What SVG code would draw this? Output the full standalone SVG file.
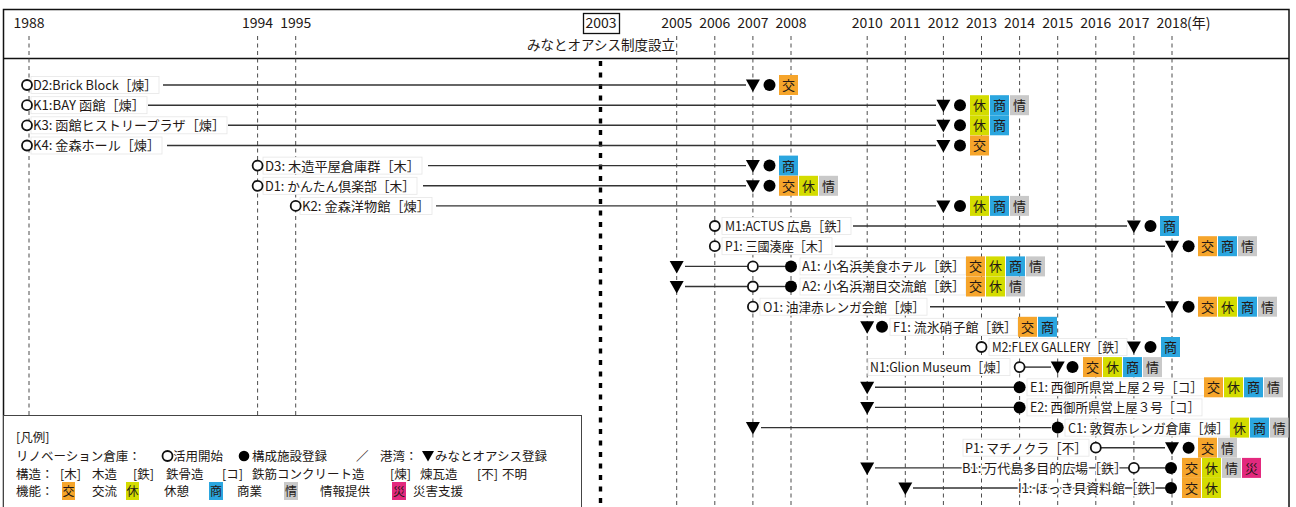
<svg xmlns="http://www.w3.org/2000/svg" width="1296" height="507" viewBox="0 0 1296 507">
<style>
.t{font-family:"Noto Sans CJK JP","Noto Sans",sans-serif;fill:#231815}
.yr{font-size:14px;text-anchor:middle}
.lb{font-size:13px}
.lg{font-size:12.5px}
.tg{font-size:13px;text-anchor:middle}
.tgs{font-size:12px;text-anchor:middle}
.dash{stroke:#4d4d4d;stroke-width:1;stroke-dasharray:4 3.5;fill:none}
.dash3{stroke:#000;stroke-width:3.4;stroke-dasharray:5 6.5;fill:none}
.ln{stroke:#333;stroke-width:1.4;fill:none}
.oc{fill:#fff;stroke:#111;stroke-width:1.8}
.fc{fill:#000}
.bg{fill:#fff;stroke:#e6e6e6;stroke-width:0.8}
.halo{stroke:#fff;stroke-width:3;paint-order:stroke;stroke-linejoin:round}
.ko{fill:#F6A52B}.kyu{fill:#D4DC00}.sho{fill:#2BA6DF}.jo{fill:#C9C9C9}.sai{fill:#E3297E}
</style>
<defs>
<path id="tri" d="M-7,-5.5 L7,-5.5 L0,7 Z" fill="#000"/>
</defs>
<rect width="1296" height="507" fill="#fff"/>
<!-- frame -->
<rect x="3.5" y="9.5" width="1285.5" height="510" fill="none" stroke="#111" stroke-width="1.5"/>
<line x1="3.5" y1="58.5" x2="1289" y2="58.5" stroke="#111" stroke-width="1.5"/>
<!-- year axis -->
<g id="axis">
<g class="dash">
<line x1="29" y1="36" x2="29" y2="507"/>
<line x1="257.6" y1="36" x2="257.6" y2="507"/>
<line x1="295.7" y1="36" x2="295.7" y2="507"/>
<line x1="676.7" y1="36" x2="676.7" y2="507"/>
<line x1="714.8" y1="36" x2="714.8" y2="507"/>
<line x1="752.9" y1="36" x2="752.9" y2="507"/>
<line x1="791" y1="36" x2="791" y2="507"/>
<line x1="867.2" y1="36" x2="867.2" y2="507"/>
<line x1="905.3" y1="36" x2="905.3" y2="507"/>
<line x1="943.4" y1="36" x2="943.4" y2="507"/>
<line x1="981.5" y1="36" x2="981.5" y2="507"/>
<line x1="1019.6" y1="36" x2="1019.6" y2="507"/>
<line x1="1057.7" y1="36" x2="1057.7" y2="507"/>
<line x1="1095.8" y1="36" x2="1095.8" y2="507"/>
<line x1="1133.9" y1="36" x2="1133.9" y2="507"/>
<line x1="1172" y1="36" x2="1172" y2="507"/>
</g>
<line class="dash3" x1="600.5" y1="61" x2="600.5" y2="507"/>
<g class="t yr">
<text x="29" y="28">1988</text>
<text x="257.6" y="28">1994</text>
<text x="295.7" y="28">1995</text>
<text x="601" y="28">2003</text>
<text x="676.7" y="28">2005</text>
<text x="714.8" y="28">2006</text>
<text x="752.9" y="28">2007</text>
<text x="791" y="28">2008</text>
<text x="867.2" y="28">2010</text>
<text x="905.3" y="28">2011</text>
<text x="943.4" y="28">2012</text>
<text x="981.5" y="28">2013</text>
<text x="1019.6" y="28">2014</text>
<text x="1057.7" y="28">2015</text>
<text x="1095.8" y="28">2016</text>
<text x="1133.9" y="28">2017</text>
<text x="1172" y="28">2018</text>
<text x="1187" y="28" style="text-anchor:start">(年)</text>
</g>
<rect x="583.5" y="13.5" width="36" height="20" fill="none" stroke="#111" stroke-width="1.3"/>
<text class="t" x="675" y="50" style="font-size:13.5px;text-anchor:end">みなとオアシス制度設立</text>
</g>
<!-- legend -->
<g id="legend">
<rect x="3.5" y="415.5" width="578" height="100" fill="#fff" stroke="#444" stroke-width="1"/>
<g class="t lg">
<text x="16" y="442">[凡例]</text>
<text x="16" y="460.5">リノベーション倉庫：</text>
<text x="173" y="460.5">活用開始</text>
<text x="252" y="460.5">構成施設登録</text>
<text x="356" y="460.5">／</text>
<text x="380" y="460.5">港湾：</text>
<text x="435" y="460.5">みなとオアシス登録</text>
<text x="16" y="478.5">構造：</text>
<text x="60" y="478.5">[木]</text>
<text x="92" y="478.5">木造</text>
<text x="133" y="478.5">[鉄]</text>
<text x="166" y="478.5">鉄骨造</text>
<text x="222" y="478.5">[コ]</text>
<text x="252" y="478.5">鉄筋コンクリート造</text>
<text x="390" y="478.5">[煉]</text>
<text x="420" y="478.5">煉瓦造</text>
<text x="477" y="478.5">[不]</text>
<text x="502" y="478.5">不明</text>
<text x="16" y="496">機能：</text>
<text x="92" y="496">交流</text>
<text x="164" y="496">休憩</text>
<text x="237" y="496">商業</text>
<text x="320" y="496">情報提供</text>
<text x="413" y="496">災害支援</text>
</g>
<circle class="oc" cx="167.5" cy="456" r="5" stroke-width="1.6"/>
<circle class="fc" cx="244" cy="456" r="5.3"/>
<path d="M422,451 L434,451 L428,461.5 Z" fill="#000"/>
<rect class="ko" x="62" y="482" width="13" height="18"/>
<rect class="kyu" x="126" y="482" width="13" height="18"/>
<rect class="sho" x="209" y="482" width="14" height="18"/>
<rect class="jo" x="284" y="482" width="14" height="18"/>
<rect class="sai" x="392" y="482" width="14" height="18"/>
<g class="t tgs">
<text x="68.5" y="496">交</text>
<text x="132.5" y="496">休</text>
<text x="216" y="496">商</text>
<text x="291" y="496">情</text>
<text x="399" y="496">災</text>
</g>
</g>
<!-- connectors -->
<g id="connectors" class="ln">
<line x1="163" y1="85" x2="746" y2="85"/>
<line x1="148" y1="105.2" x2="936" y2="105.2"/>
<line x1="228" y1="125.3" x2="936" y2="125.3"/>
<line x1="167" y1="145.5" x2="936" y2="145.5"/>
<line x1="428" y1="165.6" x2="746" y2="165.6"/>
<line x1="423" y1="185.8" x2="746" y2="185.8"/>
<line x1="436" y1="205.9" x2="936" y2="205.9"/>
<line x1="853" y1="226" x2="1127" y2="226"/>
<line x1="835" y1="246.2" x2="1165" y2="246.2"/>
<line x1="685" y1="266.4" x2="747.5" y2="266.4"/>
<line x1="758.5" y1="266.4" x2="785" y2="266.4"/>
<line x1="685" y1="286.5" x2="747.5" y2="286.5"/>
<line x1="758.5" y1="286.5" x2="785" y2="286.5"/>
<line x1="930" y1="306.7" x2="1165" y2="306.7"/>
<line x1="1025" y1="367.1" x2="1051" y2="367.1"/>
<line x1="875" y1="387.3" x2="1014" y2="387.3"/>
<line x1="875" y1="407.4" x2="1014" y2="407.4"/>
<line x1="761" y1="427.6" x2="1051" y2="427.6"/>
<line x1="1101" y1="447.7" x2="1165" y2="447.7"/>
<line x1="875" y1="467.9" x2="1128.5" y2="467.9"/>
<line x1="1139" y1="467.9" x2="1165" y2="467.9"/>
<line x1="913" y1="488" x2="1165" y2="488"/>
</g>
<!-- nodes -->
<g id="D2">
<rect class="bg" x="31" y="76.5" width="128" height="17"/>
<circle class="oc" cx="27" cy="85" r="5"/>
<text class="t lb" x="33" y="89.9" textLength="124" lengthAdjust="spacingAndGlyphs">D2:Brick Block［煉］</text>
<use href="#tri" x="752.9" y="85"/><circle class="fc" cx="769.5" cy="85" r="6"/>
<rect class="ko" x="779" y="75" width="19" height="20"/><text class="t tg" x="788.5" y="89.9">交</text>
</g>
<g id="K1">
<rect class="bg" x="31" y="96.7" width="116" height="17"/>
<circle class="oc" cx="27" cy="105.2" r="5"/>
<text class="t lb" x="33" y="110.1" textLength="112" lengthAdjust="spacingAndGlyphs">K1:BAY 函館［煉］</text>
<use href="#tri" x="943.4" y="105.2"/><circle class="fc" cx="960" cy="105.2" r="6"/>
<rect class="kyu" x="970" y="95.2" width="19" height="20"/><text class="t tg" x="979.5" y="110.1">休</text>
<rect class="sho" x="990" y="95.2" width="19" height="20"/><text class="t tg" x="999.5" y="110.1">商</text>
<rect class="jo" x="1010" y="95.2" width="19" height="20"/><text class="t tg" x="1019.5" y="110.1">情</text>
</g>
<g id="K3">
<rect class="bg" x="31" y="116.8" width="196" height="17"/>
<circle class="oc" cx="27" cy="125.3" r="5"/>
<text class="t lb" x="33" y="130.2" textLength="192" lengthAdjust="spacingAndGlyphs">K3: 函館ヒストリープラザ［煉］</text>
<use href="#tri" x="943.4" y="125.3"/><circle class="fc" cx="960" cy="125.3" r="6"/>
<rect class="kyu" x="970" y="115.3" width="19" height="20"/><text class="t tg" x="979.5" y="130.2">休</text>
<rect class="sho" x="990" y="115.3" width="19" height="20"/><text class="t tg" x="999.5" y="130.2">商</text>
</g>
<g id="K4">
<rect class="bg" x="31" y="137" width="131" height="17"/>
<circle class="oc" cx="27" cy="145.5" r="5"/>
<text class="t lb" x="33" y="150.4" textLength="127" lengthAdjust="spacingAndGlyphs">K4: 金森ホール［煉］</text>
<use href="#tri" x="943.4" y="145.5"/><circle class="fc" cx="960" cy="145.5" r="6"/>
<rect class="ko" x="970" y="135.5" width="19" height="20"/><text class="t tg" x="979.5" y="150.4">交</text>
</g>
<g id="D3">
<rect class="bg" x="263" y="157.1" width="159" height="17"/>
<circle class="oc" cx="257.6" cy="165.6" r="5"/>
<text class="t lb" x="265" y="170.5" textLength="155" lengthAdjust="spacingAndGlyphs">D3: 木造平屋倉庫群［木］</text>
<use href="#tri" x="752.9" y="165.6"/><circle class="fc" cx="769.5" cy="165.6" r="6"/>
<rect class="sho" x="779" y="155.6" width="19" height="20"/><text class="t tg" x="788.5" y="170.5">商</text>
</g>
<g id="D1">
<rect class="bg" x="263" y="177.3" width="154" height="17"/>
<circle class="oc" cx="257.6" cy="185.8" r="5"/>
<text class="t lb" x="265" y="190.7" textLength="150" lengthAdjust="spacingAndGlyphs">D1: かんたん倶楽部［木］</text>
<use href="#tri" x="752.9" y="185.8"/><circle class="fc" cx="769.5" cy="185.8" r="6"/>
<rect class="ko" x="779" y="175.8" width="19" height="20"/><text class="t tg" x="788.5" y="190.7">交</text>
<rect class="kyu" x="799" y="175.8" width="19" height="20"/><text class="t tg" x="808.5" y="190.7">休</text>
<rect class="jo" x="819" y="175.8" width="19" height="20"/><text class="t tg" x="828.5" y="190.7">情</text>
</g>
<g id="K2">
<rect class="bg" x="300" y="197.4" width="132" height="17"/>
<circle class="oc" cx="295.7" cy="205.9" r="5"/>
<text class="t lb" x="302" y="210.8" textLength="128" lengthAdjust="spacingAndGlyphs">K2: 金森洋物館［煉］</text>
<use href="#tri" x="943.4" y="205.9"/><circle class="fc" cx="960" cy="205.9" r="6"/>
<rect class="kyu" x="970" y="195.9" width="19" height="20"/><text class="t tg" x="979.5" y="210.8">休</text>
<rect class="sho" x="990" y="195.9" width="19" height="20"/><text class="t tg" x="999.5" y="210.8">商</text>
<rect class="jo" x="1010" y="195.9" width="19" height="20"/><text class="t tg" x="1019.5" y="210.8">情</text>
</g>
<g id="M1">
<rect class="bg" x="722" y="217.5" width="129" height="17"/>
<circle class="oc" cx="714.8" cy="226" r="5"/>
<text class="t lb" x="725" y="230.9" textLength="124" lengthAdjust="spacingAndGlyphs">M1:ACTUS 広島［鉄］</text>
<use href="#tri" x="1133.9" y="226"/><circle class="fc" cx="1150.5" cy="226" r="6"/>
<rect class="sho" x="1160" y="216" width="19" height="20"/><text class="t tg" x="1169.5" y="230.9">商</text>
</g>
<g id="P1-mikuni">
<rect class="bg" x="722" y="237.7" width="110" height="17"/>
<circle class="oc" cx="714.8" cy="246.2" r="5"/>
<text class="t lb" x="725" y="251.1" textLength="105" lengthAdjust="spacingAndGlyphs">P1: 三國湊座［木］</text>
<use href="#tri" x="1172" y="246.2"/><circle class="fc" cx="1188.6" cy="246.2" r="6"/>
<rect class="ko" x="1198" y="236.2" width="19" height="20"/><text class="t tg" x="1207.5" y="251.1">交</text>
<rect class="sho" x="1218" y="236.2" width="19" height="20"/><text class="t tg" x="1227.5" y="251.1">商</text>
<rect class="jo" x="1238" y="236.2" width="19" height="20"/><text class="t tg" x="1247.5" y="251.1">情</text>
</g>
<g id="A1">
<use href="#tri" x="676.7" y="266.4"/>
<circle class="oc" cx="752.9" cy="266.4" r="5"/>
<rect class="bg" x="800" y="257.9" width="166" height="17"/>
<circle class="fc" cx="791" cy="266.4" r="6"/>
<text class="t lb" x="802" y="271.3" textLength="163" lengthAdjust="spacingAndGlyphs">A1: 小名浜美食ホテル［鉄］</text>
<rect class="ko" x="966" y="256.4" width="19" height="20"/><text class="t tg" x="975.5" y="271.3">交</text>
<rect class="kyu" x="986" y="256.4" width="19" height="20"/><text class="t tg" x="995.5" y="271.3">休</text>
<rect class="sho" x="1006" y="256.4" width="19" height="20"/><text class="t tg" x="1015.5" y="271.3">商</text>
<rect class="jo" x="1026" y="256.4" width="19" height="20"/><text class="t tg" x="1035.5" y="271.3">情</text>
</g>
<g id="A2">
<use href="#tri" x="676.7" y="286.5"/>
<circle class="oc" cx="752.9" cy="286.5" r="5"/>
<rect class="bg" x="800" y="278" width="166" height="17"/>
<circle class="fc" cx="791" cy="286.5" r="6"/>
<text class="t lb" x="802" y="291.4" textLength="163" lengthAdjust="spacingAndGlyphs">A2: 小名浜潮目交流館［鉄］</text>
<rect class="ko" x="966" y="276.5" width="19" height="20"/><text class="t tg" x="975.5" y="291.4">交</text>
<rect class="kyu" x="986" y="276.5" width="19" height="20"/><text class="t tg" x="995.5" y="291.4">休</text>
<rect class="jo" x="1006" y="276.5" width="19" height="20"/><text class="t tg" x="1015.5" y="291.4">情</text>
</g>
<g id="O1">
<rect class="bg" x="760" y="298.2" width="167" height="17"/>
<circle class="oc" cx="752.9" cy="306.7" r="5"/>
<text class="t lb" x="763" y="311.6" textLength="162" lengthAdjust="spacingAndGlyphs">O1: 油津赤レンガ会館［煉］</text>
<use href="#tri" x="1172" y="306.7"/><circle class="fc" cx="1188.6" cy="306.7" r="6"/>
<rect class="ko" x="1198" y="296.7" width="19" height="20"/><text class="t tg" x="1207.5" y="311.6">交</text>
<rect class="kyu" x="1218" y="296.7" width="19" height="20"/><text class="t tg" x="1227.5" y="311.6">休</text>
<rect class="sho" x="1238" y="296.7" width="19" height="20"/><text class="t tg" x="1247.5" y="311.6">商</text>
<rect class="jo" x="1258" y="296.7" width="19" height="20"/><text class="t tg" x="1267.5" y="311.6">情</text>
</g>
<g id="F1">
<use href="#tri" x="867.2" y="326.8"/>
<rect class="bg" x="890" y="318.3" width="128" height="17"/>
<circle class="fc" cx="882" cy="326.8" r="6"/>
<text class="t lb" x="893" y="331.7" textLength="124" lengthAdjust="spacingAndGlyphs">F1: 流氷硝子館［鉄］</text>
<rect class="ko" x="1018" y="316.8" width="19" height="20"/><text class="t tg" x="1027.5" y="331.7">交</text>
<rect class="sho" x="1038" y="316.8" width="19" height="20"/><text class="t tg" x="1047.5" y="331.7">商</text>
</g>
<g id="M2">
<rect class="bg" x="989" y="338.5" width="138" height="17"/>
<circle class="oc" cx="981.5" cy="347" r="5"/>
<text class="t lb" x="992" y="351.9" textLength="134" lengthAdjust="spacingAndGlyphs">M2:FLEX GALLERY［鉄］</text>
<use href="#tri" x="1133.9" y="347"/><circle class="fc" cx="1150.5" cy="347" r="6"/>
<rect class="sho" x="1161" y="337" width="19" height="20"/><text class="t tg" x="1170.5" y="351.9">商</text>
</g>
<g id="N1">
<rect class="bg" x="868" y="358.6" width="142" height="17"/>
<text class="t lb" x="870" y="372" textLength="138" lengthAdjust="spacingAndGlyphs">N1:Glion Museum［煉］</text>
<circle class="oc" cx="1019.6" cy="367.1" r="5"/>
<use href="#tri" x="1057.7" y="367.1"/><circle class="fc" cx="1072.5" cy="367.1" r="6"/>
<rect class="ko" x="1083" y="357.1" width="19" height="20"/><text class="t tg" x="1092.5" y="372">交</text>
<rect class="kyu" x="1103" y="357.1" width="19" height="20"/><text class="t tg" x="1112.5" y="372">休</text>
<rect class="sho" x="1123" y="357.1" width="19" height="20"/><text class="t tg" x="1132.5" y="372">商</text>
<rect class="jo" x="1143" y="357.1" width="19" height="20"/><text class="t tg" x="1152.5" y="372">情</text>
</g>
<g id="E1">
<use href="#tri" x="867.2" y="387.3"/>
<rect class="bg" x="1027" y="378.8" width="178" height="17"/>
<circle class="fc" cx="1019.6" cy="387.3" r="6"/>
<text class="t lb" x="1030" y="392.2" textLength="173" lengthAdjust="spacingAndGlyphs">E1: 西御所県営上屋２号［コ］</text>
<rect class="ko" x="1204" y="377.3" width="19" height="20"/><text class="t tg" x="1213.5" y="392.2">交</text>
<rect class="kyu" x="1224" y="377.3" width="19" height="20"/><text class="t tg" x="1233.5" y="392.2">休</text>
<rect class="sho" x="1244" y="377.3" width="19" height="20"/><text class="t tg" x="1253.5" y="392.2">商</text>
<rect class="jo" x="1264" y="377.3" width="19" height="20"/><text class="t tg" x="1273.5" y="392.2">情</text>
</g>
<g id="E2">
<use href="#tri" x="867.2" y="407.4"/>
<rect class="bg" x="1027" y="398.9" width="175" height="17"/>
<circle class="fc" cx="1019.6" cy="407.4" r="6"/>
<text class="t lb" x="1030" y="412.3" textLength="170" lengthAdjust="spacingAndGlyphs">E2: 西御所県営上屋３号［コ］</text>
</g>
<g id="C1">
<use href="#tri" x="752.9" y="427.6"/>
<rect class="bg" x="1065" y="419.1" width="165" height="17"/>
<circle class="fc" cx="1057.7" cy="427.6" r="6"/>
<text class="t lb" x="1068" y="432.5" textLength="161" lengthAdjust="spacingAndGlyphs">C1: 敦賀赤レンガ倉庫［煉］</text>
<rect class="kyu" x="1230" y="417.6" width="19" height="20"/><text class="t tg" x="1239.5" y="432.5">休</text>
<rect class="sho" x="1250" y="417.6" width="19" height="20"/><text class="t tg" x="1259.5" y="432.5">商</text>
<rect class="jo" x="1270" y="417.6" width="18.5" height="20"/><text class="t tg" x="1279.3" y="432.5">情</text>
</g>
<g id="P1-machinokura">
<rect class="bg" x="963" y="439.2" width="126" height="17"/>
<text class="t lb" x="965" y="452.6" textLength="122" lengthAdjust="spacingAndGlyphs">P1: マチノクラ［不］</text>
<circle class="oc" cx="1095.8" cy="447.7" r="5"/>
<use href="#tri" x="1172" y="447.7"/><circle class="fc" cx="1188.6" cy="447.7" r="6"/>
<rect class="ko" x="1198" y="437.7" width="19" height="20"/><text class="t tg" x="1207.5" y="452.6">交</text>
<rect class="jo" x="1218" y="437.7" width="19" height="20"/><text class="t tg" x="1227.5" y="452.6">情</text>
</g>
<g id="B1">
<use href="#tri" x="867.2" y="467.9"/>
<text class="t lb halo" x="962" y="472.8" textLength="165" lengthAdjust="spacingAndGlyphs">B1: 万代島多目的広場［鉄］</text>
<circle class="oc" cx="1133.9" cy="467.9" r="5"/>
<circle class="fc" cx="1171" cy="467.9" r="6"/>
<rect class="ko" x="1182" y="457.9" width="19" height="20"/><text class="t tg" x="1191.5" y="472.8">交</text>
<rect class="kyu" x="1202" y="457.9" width="19" height="20"/><text class="t tg" x="1211.5" y="472.8">休</text>
<rect class="jo" x="1222" y="457.9" width="19" height="20"/><text class="t tg" x="1231.5" y="472.8">情</text>
<rect class="sai" x="1242" y="457.9" width="19" height="20"/><text class="t tg" x="1251.5" y="472.8">災</text>
</g>
<g id="I1">
<use href="#tri" x="905.3" y="488"/>
<text class="t lb halo" x="1018" y="492.9" textLength="145" lengthAdjust="spacingAndGlyphs">I1: ほっき貝資料館［鉄］</text>
<circle class="fc" cx="1171" cy="488" r="6"/>
<rect class="ko" x="1182" y="478" width="19" height="20"/><text class="t tg" x="1191.5" y="492.9">交</text>
<rect class="kyu" x="1202" y="478" width="19" height="20"/><text class="t tg" x="1211.5" y="492.9">休</text>
</g>
</svg>
